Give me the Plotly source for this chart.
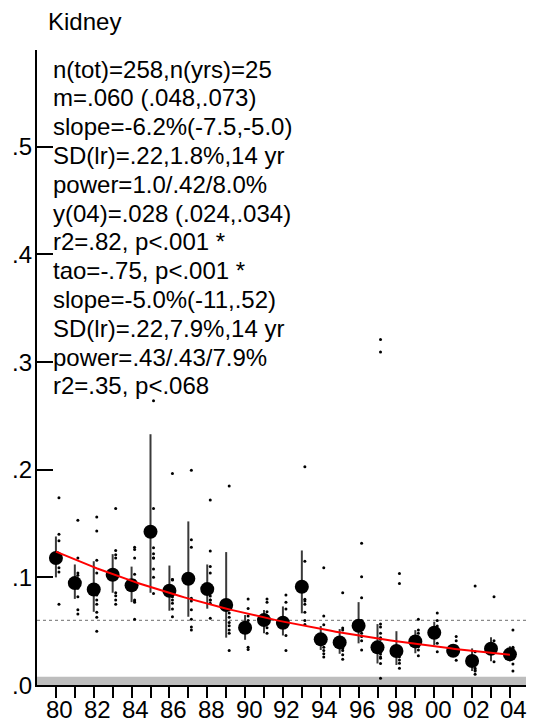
import numpy as np
import plotly.graph_objects as go

# ---- data -------------------------------------------------------------
years = list(range(1980, 2005))

# yearly (geometric) means
means = [0.118, 0.0947, 0.0888, 0.1024, 0.0926, 0.1424, 0.0876, 0.0987, 0.0891,
         0.0743, 0.0532, 0.0603, 0.0579, 0.0913, 0.0424, 0.0396, 0.0550, 0.0350,
         0.0316, 0.0405, 0.0486, 0.0318, 0.0223, 0.0337, 0.0285]

# 95% interval of each yearly mean
ci_low = [0.100, 0.080, 0.068, 0.0857, 0.077, 0.0857, 0.069, 0.0634, 0.0709,
          0.044, 0.042, 0.048, 0.046, 0.0666, 0.0325, 0.029, 0.0387, 0.020,
          0.0186, 0.0295, 0.037, 0.026, 0.013, 0.022, 0.022]
ci_high = [0.138, 0.112, 0.115, 0.1216, 0.110, 0.233, 0.111, 0.152, 0.112,
           0.1235, 0.065, 0.0697, 0.073, 0.125, 0.0548, 0.052, 0.077, 0.0566,
           0.050, 0.051, 0.0588, 0.038, 0.034, 0.0444, 0.036]

# individual samples per year
samples = [
    [0.174, 0.140, 0.134, 0.109, 0.105, 0.075, 0.120, 0.115],
    [0.153, 0.118, 0.104, 0.102, 0.082, 0.070, 0.066, 0.095, 0.090],
    [0.156, 0.143, 0.116, 0.104, 0.0836, 0.079, 0.075, 0.0675, 0.063, 0.050],
    [0.164, 0.125, 0.121, 0.118, 0.0857, 0.083, 0.079, 0.075, 0.100],
    [0.128, 0.126, 0.118, 0.103, 0.097, 0.079, 0.077, 0.061, 0.078],
    [0.264, 0.164, 0.1275, 0.122, 0.118, 0.1077, 0.100, 0.085, 0.118],
    [0.1966, 0.0975, 0.082, 0.079, 0.076, 0.0706, 0.0634, 0.098, 0.098],
    [0.1996, 0.135, 0.128, 0.0805, 0.078, 0.070, 0.061, 0.054, 0.051],
    [0.1718, 0.1244, 0.110, 0.104, 0.0826, 0.079, 0.076, 0.062, 0.079],
    [0.185, 0.073, 0.067, 0.063, 0.058, 0.055, 0.051, 0.048, 0.032],
    [0.080, 0.071, 0.064, 0.060, 0.035, 0.033],
    [0.080, 0.077, 0.068, 0.064, 0.0585, 0.0532, 0.048],
    [0.0836, 0.077, 0.0706, 0.060, 0.046, 0.032],
    [0.2027, 0.115, 0.0796, 0.078, 0.075, 0.0675, 0.060, 0.0563],
    [0.109, 0.064, 0.056, 0.035, 0.032, 0.029, 0.026, 0.045],
    [0.0857, 0.053, 0.051, 0.037, 0.034, 0.032, 0.028, 0.024],
    [0.1316, 0.1006, 0.081, 0.048, 0.045, 0.041, 0.0325, 0.060],
    [0.321, 0.3095, 0.0566, 0.054, 0.048, 0.0424, 0.0356, 0.0319, 0.0288,
     0.0248, 0.020, 0.0062, 0.044, 0.026],
    [0.1037, 0.0944, 0.0294, 0.0263, 0.0232, 0.0201, 0.0155],
    [0.061, 0.051, 0.048, 0.0449, 0.0402, 0.0356, 0.0325, 0.0272, 0.038],
    [0.067, 0.0548, 0.0464, 0.0387, 0.031, 0.060],
    [0.045, 0.041, 0.034, 0.031, 0.023, 0.036],
    [0.092, 0.031, 0.0155, 0.013, 0.010, 0.014],
    [0.082, 0.041, 0.034, 0.031, 0.0217],
    [0.051, 0.035, 0.032, 0.0195, 0.013, 0.034],
]

# log-linear trend: value in 2004 and yearly rate of change
trend_end_year = 2004
trend_end_value = 0.028
trend_rate = -0.062

overall_mean = 0.060      # dotted reference level
lod_level = 0.0077        # shaded band at the bottom

stats_lines = [
    "n(tot)=258,n(yrs)=25",
    "m=.060 (.048,.073)",
    "slope=-6.2%(-7.5,-5.0)",
    "SD(lr)=.22,1.8%,14 yr",
    "power=1.0/.42/8.0%",
    "y(04)=.028 (.024,.034)",
    "r2=.82, p<.001 *",
    "tao=-.75, p<.001 *",
    "slope=-5.0%(-11,.52)",
    "SD(lr)=.22,7.9%,14 yr",
    "power=.43/.43/7.9%",
    "r2=.35, p<.068",
]

y_tick_vals = [0.0, 0.1, 0.2, 0.3, 0.4, 0.5]
y_tick_text = [".0", ".1", ".2", ".3", ".4", ".5"]
x_label_years = list(range(1980, 2005, 2))
x_label_text = [f"{y % 100:02d}" for y in x_label_years]

# ---- figure -----------------------------------------------------------
W, H = 534, 726
ML, MR, MT, MB = 37, 8, 50, 41
FONT = "Liberation Sans, Arial, sans-serif"
FS = 24

plot_h = H - MT - MB
plot_w = W - ML - MR


def px_to_paper_y(py):
    return (H - MB - py) / plot_h


def px_to_paper_x(px):
    return (px - ML) / plot_w


fig = go.Figure()

# interval lines for each yearly mean
vx, vy = [], []
for yr, lo, hi in zip(years, ci_low, ci_high):
    vx += [yr, yr, None]
    vy += [lo, hi, None]
fig.add_trace(go.Scatter(x=vx, y=vy, mode="lines",
                         line=dict(color="#3a3a3a", width=2),
                         hoverinfo="skip", showlegend=False))

# individual samples, drawn just right of the year
sample_offset = 0.16
sx, sy = [], []
for yr, vals in zip(years, samples):
    sx += [yr + sample_offset] * len(vals)
    sy += vals
fig.add_trace(go.Scatter(x=sx, y=sy, mode="markers",
                         marker=dict(color="black", size=3),
                         showlegend=False))

# yearly means
fig.add_trace(go.Scatter(x=years, y=means, mode="markers",
                         marker=dict(color="black", size=14),
                         showlegend=False))

# fitted trend
t = np.linspace(years[0], years[-1], 100)
fit = trend_end_value * np.exp(trend_rate * (t - trend_end_year))
fig.add_trace(go.Scatter(x=t, y=fit, mode="lines",
                         line=dict(color="#ff0000", width=2),
                         hoverinfo="skip", showlegend=False))

shapes = [
    dict(type="rect", xref="paper", yref="y", x0=0, x1=1, y0=0, y1=lod_level,
         fillcolor="#bdbdbd", line=dict(width=0), layer="below"),
    dict(type="line", xref="paper", yref="y", x0=0, x1=1,
         y0=overall_mean, y1=overall_mean,
         line=dict(color="#8a8a8a", width=1.3, dash="dot"), layer="below"),
]

annotations = []
# panel title
annotations.append(dict(text="Kidney", xref="paper", yref="paper",
                        x=px_to_paper_x(46), y=px_to_paper_y(22),
                        xanchor="left", yanchor="middle", showarrow=False,
                        font=dict(family=FONT, size=FS, color="black")))
# statistics block
for i, line in enumerate(stats_lines):
    annotations.append(dict(text=line, xref="paper", yref="paper",
                            x=px_to_paper_x(51), y=px_to_paper_y(69 + i * 28.8),
                            xanchor="left", yanchor="middle", showarrow=False,
                            font=dict(family=FONT, size=FS, color="black")))
# y-axis labels, set close to the axis line
for v, lab in zip(y_tick_vals, y_tick_text):
    annotations.append(dict(text=lab, xref="paper", yref="y",
                            x=0, y=v, xshift=-3,
                            xanchor="right", yanchor="middle", showarrow=False,
                            font=dict(family=FONT, size=FS, color="black")))
# year labels
for yr, lab in zip(x_label_years, x_label_text):
    annotations.append(dict(text=lab, xref="x", yref="paper",
                            x=yr, y=px_to_paper_y(H - 1), xshift=4,
                            xanchor="center", yanchor="bottom", showarrow=False,
                            font=dict(family=FONT, size=FS, color="black")))

fig.update_layout(
    width=W, height=H,
    margin=dict(l=ML, r=MR, t=MT, b=MB, pad=0),
    paper_bgcolor="white", plot_bgcolor="white",
    font=dict(family=FONT, size=FS, color="black"),
    shapes=shapes, annotations=annotations,
    xaxis=dict(range=[1979.0, 2004.85], showgrid=False, zeroline=False,
               showline=True, linecolor="black", linewidth=2,
               ticks="outside", ticklen=11, tickwidth=2, tickcolor="black",
               tickvals=years, showticklabels=False),
    yaxis=dict(range=[0, 0.59], showgrid=False, zeroline=False,
               showline=True, linecolor="black", linewidth=2,
               ticks="inside", ticklen=16, tickwidth=1.5, tickcolor="black",
               tickvals=y_tick_vals, showticklabels=False),
)

fig.write_html("out.html")
